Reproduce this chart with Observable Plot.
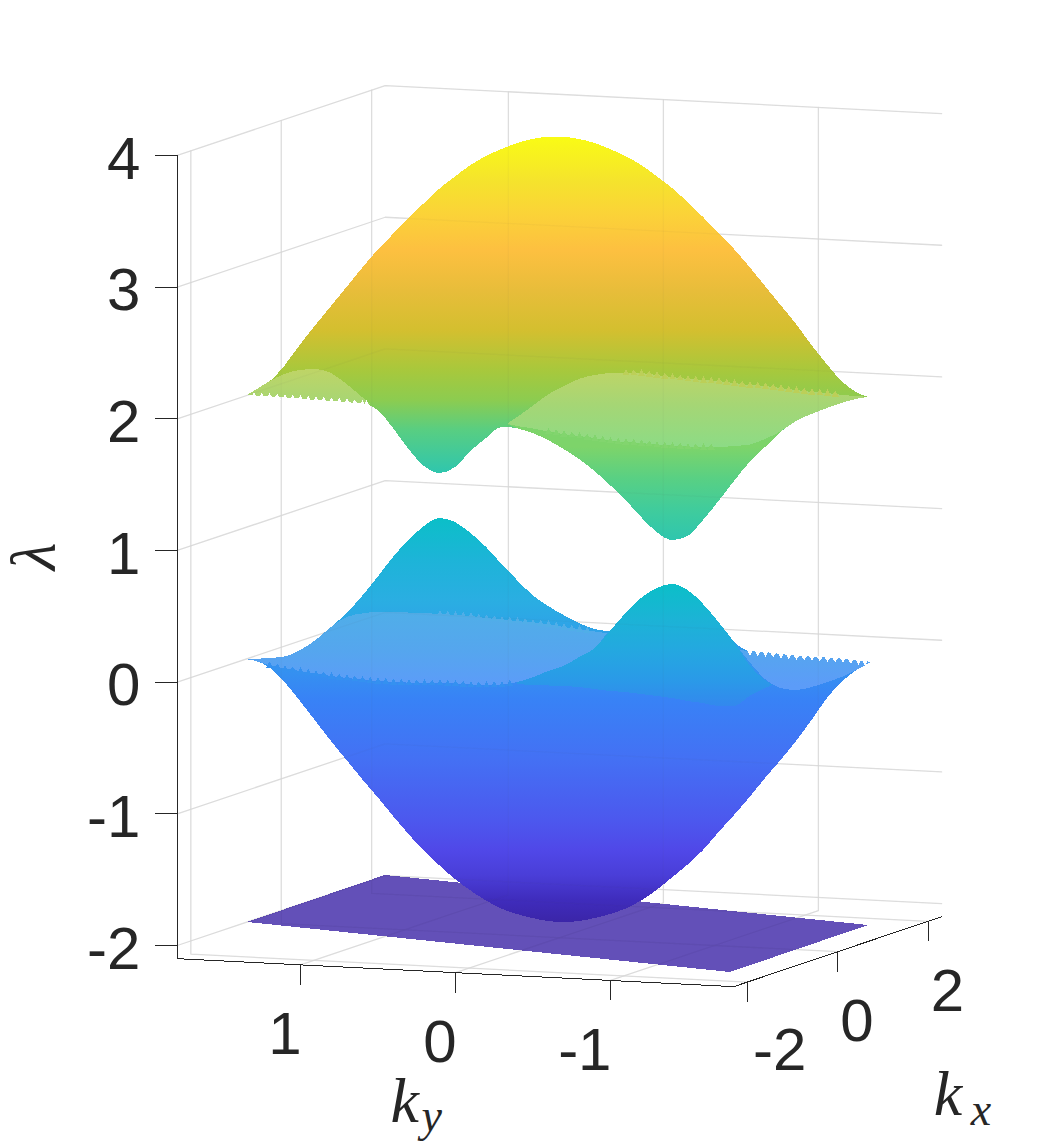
<!DOCTYPE html>
<html>
<head>
<meta charset="utf-8">
<style>html,body{margin:0;padding:0;background:#fff;overflow:hidden}svg{display:block}</style>
<script src="https://cdn.jsdelivr.net/npm/d3@7"></script>
<script src="https://cdn.jsdelivr.net/npm/@observablehq/plot@0.6"></script>
</head>
<body>
<div id="chart"></div>
<script>
// Axis ticks and box limits
const kxTicks = [-2, 0, 2];
const kyTicks = [1, 0, -1];
const lambdaTicks = [-2, -1, 0, 1, 2, 3, 4];
const kxLimits = [-2.3, 2.3];
const kyLimits = [1.795, -1.795];
const lambdaLimits = [-2.1, 4];

// Silhouettes: horizontal place in ky units along the front axis,
// height in lambda units along the left axis.
const stepU = [1.3,1.2,1.1,1.0,0.9,0.8,0.7,0.6,0.5,0.4,0.3,0.2,0.1,0,-0.1,-0.2,-0.3,-0.4,-0.5,-0.6,-0.7,-0.8,-0.9,-1.0,-1.1,-1.2,-1.3,-1.4,-1.5,-1.6,-1.7,-1.8,-1.9,-2.0,-2.1,-2.2,-2.3,-2.4,-2.5,-2.6];

const upperBandU = [1.342, ...stepU, -2.665];
const upperBandTop = [2.177,2.204,2.276,2.401,2.561,2.709,2.853,2.997,3.142,3.278,3.400,3.521,3.635,3.745,3.837,3.924,3.992,4.045,4.091,4.121,4.137,4.137,4.121,4.091,4.045,3.992,3.924,3.840,3.749,3.643,3.529,3.407,3.286,3.149,3.005,2.861,2.716,2.557,2.409,2.276,2.192,2.162];
const upperBandBottom = [2.177,2.173,2.166,2.158,2.150,2.139,2.131,2.124,2.112,2.063,1.926,1.767,1.638,1.585,1.630,1.752,1.850,1.934,1.926,1.888,1.835,1.767,1.691,1.600,1.493,1.380,1.251,1.137,1.076,1.106,1.228,1.372,1.524,1.668,1.782,1.896,1.980,2.033,2.078,2.120,2.150,2.162];

const upperLeftU = [1.342,1.3,1.2,1.1,1.0,0.9,0.8,0.7,0.6,0.548];
const upperLeftTop = [2.177,2.207,2.280,2.337,2.367,2.375,2.344,2.261,2.162,2.109];
const upperLeftBottom = [2.177,2.173,2.166,2.158,2.150,2.139,2.131,2.124,2.112,2.109];

const upperRightU = [-0.335,-0.4,-0.5,-0.6,-0.7,-0.8,-0.9,-1.0,-1.1,-1.2,-1.3,-1.4,-1.5,-1.6,-1.7,-1.8,-1.9,-2.0,-2.1,-2.2,-2.3,-2.4,-2.5,-2.6,-2.665];
const upperRightTop = [1.957,2.010,2.094,2.181,2.245,2.299,2.329,2.344,2.348,2.344,2.329,2.314,2.299,2.291,2.283,2.268,2.253,2.245,2.230,2.215,2.200,2.192,2.177,2.169,2.162];
const upperRightBottom = [1.957,1.942,1.923,1.900,1.881,1.866,1.850,1.831,1.820,1.812,1.801,1.793,1.786,1.782,1.782,1.790,1.801,1.843,1.900,1.980,2.033,2.078,2.120,2.150,2.162];

const upperDipU = [-0.335,-0.4,-0.5,-0.6,-0.7,-0.8,-0.9,-1.0,-1.1,-1.2,-1.3,-1.4,-1.5,-1.6,-1.7,-1.8,-1.9,-2.0,-2.1];
const upperDipTop = [1.957,1.942,1.923,1.900,1.881,1.866,1.850,1.831,1.820,1.812,1.801,1.793,1.786,1.782,1.782,1.790,1.801,1.843,1.900];
const upperDipBottom = [1.957,1.926,1.888,1.835,1.767,1.691,1.600,1.493,1.380,1.251,1.137,1.076,1.106,1.228,1.372,1.524,1.668,1.782,1.896];

const lowerBandU = [1.335, ...stepU, -2.684];
const lowerBandTop = [0.168,0.172,0.180,0.191,0.240,0.316,0.415,0.521,0.650,0.795,0.947,1.076,1.182,1.243,1.212,1.129,1.023,0.894,0.772,0.658,0.575,0.506,0.445,0.400,0.385,0.521,0.635,0.711,0.742,0.696,0.590,0.453,0.301,0.233,0.225,0.210,0.199,0.191,0.183,0.176,0.164,0.149];
const lowerBandBottom = [0.168,0.161,0.111,-0.003,-0.147,-0.299,-0.451,-0.595,-0.739,-0.876,-1.020,-1.157,-1.286,-1.396,-1.499,-1.586,-1.662,-1.723,-1.765,-1.795,-1.818,-1.825,-1.818,-1.795,-1.765,-1.723,-1.662,-1.582,-1.487,-1.389,-1.279,-1.142,-1.013,-0.876,-0.732,-0.595,-0.451,-0.291,-0.124,0.005,0.096,0.149];

const lowerPeakU = [-0.4,-0.5,-0.6,-0.7,-0.8,-0.9,-1.0,-1.1,-1.2,-1.3,-1.4,-1.5,-1.6,-1.7,-1.8,-1.9,-2.0,-2.052];
const lowerPeakTop = [-0.003,0.032,0.081,0.119,0.187,0.255,0.385,0.521,0.635,0.711,0.742,0.696,0.590,0.453,0.301,0.126,0.012,-0.025];
const lowerPeakBottom = [-0.018,-0.025,-0.029,-0.033,-0.041,-0.056,-0.071,-0.079,-0.094,-0.109,-0.124,-0.147,-0.162,-0.185,-0.185,-0.109,-0.048,-0.025];

const lowerLeftU = [1.335,1.3,1.2,1.1,1.0,0.9,0.8,0.7,0.6,0.5,0.4,0.3,0.2,0.1,0,-0.1,-0.2,-0.3,-0.4,-0.5,-0.6,-0.7,-0.8,-0.9,-0.981];
const lowerLeftTop = [0.168,0.172,0.180,0.191,0.240,0.316,0.415,0.491,0.518,0.529,0.529,0.525,0.521,0.514,0.506,0.499,0.483,0.472,0.461,0.449,0.438,0.415,0.400,0.381,0.369];
const lowerLeftBottom = [0.168,0.161,0.126,0.100,0.081,0.062,0.043,0.028,0.016,0.005,-0.003,-0.007,-0.010,-0.010,-0.014,-0.022,-0.025,-0.022,-0.003,0.032,0.081,0.119,0.187,0.255,0.369];

const lowerRightU = [-1.839,-1.9,-2.0,-2.1,-2.2,-2.3,-2.4,-2.5,-2.6,-2.684];
const lowerRightTop = [0.240,0.233,0.225,0.210,0.199,0.191,0.183,0.176,0.164,0.149];
const lowerRightBottom = [0.240,0.149,0.020,-0.048,-0.063,-0.041,-0.003,0.039,0.096,0.149];

const flatBandU = [1.342,0.452,-1.774,-2.665];
const flatBandTop = [-1.825,-1.468,-1.740,-1.848];
const flatBandBottom = [-1.825,-1.934,-2.205,-1.848];

// Colour ramps, height in lambda units
const upperMainRamp = [[4.137,"#f9fb15"],[3.810,"#f5e42c"],[3.544,"#fbd238"],[3.278,"#fdc040"],[2.974,"#e8bd3a"],[2.671,"#d4bf2f"],[2.367,"#a8c83c"],[2.139,"#8ccc50"],[1.911,"#58ce82"],[1.585,"#2fc6ae"]];
const upperDipRamp = [[1.782,"#7dd46a"],[1.540,"#58d084"],[1.310,"#40cc9c"],[1.076,"#2fc6ae"]];
const upperLightRamp = [[2.375,"#bfd466"],[2.100,"#a5d675"],[1.790,"#8ddb85"]];
const lowerMainRamp = [[1.243,"#0bbfc8"],[0.924,"#1db4d8"],[0.620,"#2aaee2"],[0.170,"#3397ee"],[-0.139,"#3882f6"],[-0.595,"#4470f4"],[-1.051,"#4c58ee"],[-1.279,"#5048e8"],[-1.468,"#4a3ed8"],[-1.659,"#3f2cbc"],[-1.825,"#3b25a8"]];
const lowerPeakRamp = [[0.742,"#0bbfc8"],[0.468,"#1cb3d6"],[0.240,"#24a8e0"],[0.012,"#2a9ae8"],[-0.185,"#3388ee"]];
const lowerLightRamp = [[0.529,"#50aee8"],[0.240,"#55a6ee"],[-0.025,"#5c9cf8"]];
const ramps = {upperMain:upperMainRamp, upperDip:upperDipRamp, upperLight:upperLightRamp, lowerMain:lowerMainRamp, lowerPeak:lowerPeakRamp, lowerLight:lowerLightRamp};

// Oblique view of the box: (kx, ky, lambda) -> place on the picture plane
const project = (kx, ky, l) => ({
  x: ky - 0.2916 * (kx - kxLimits[0]),
  y: l - 0.0592 * (kyLimits[0] - ky) + 0.1154 * (kx - kxLimits[0])
});
const segment = (id, ...pts) => pts.map(p => ({id, ...project(...p)}));

const [kxA, kxB] = kxLimits, [kyA, kyB] = kyLimits, [lA, lB] = lambdaLimits;
const grid = [
  ...lambdaTicks.flatMap(l => segment("l" + l, [kxA,kyA,l], [kxB,kyA,l], [kxB,kyB,l])),
  ...kxTicks.flatMap(k => segment("wx" + k, [k,kyA,lB], [k,kyA,lA], [k,kyB,lA])),
  ...kyTicks.flatMap(k => segment("wy" + k, [kxB,k,lB], [kxB,k,lA], [kxA,k,lA]))
];
const axisPath = segment("axis", [kxA,kyA,lB], [kxA,kyA,lA], [kxA,kyB,lA], [kxB,kyB,lA]);

const table = (u, a, b) => u.map((x, i) => ({x, y1: a[i], y2: b[i]}));
const band = (u, a, b, fill, curve = "monotone-x") => Plot.areaY(table(u, a, b), {x: "x", y1: "y1", y2: "y2", fill, curve, shapeRendering: "crispEdges"});
// small saw-teeth of the mesh edge, one at each read point and halfway to the next
const teeth = (u, v) => d3.pairs(u.map((x, i) => ({x, y: v[i]}))).flatMap(([a, b]) => [a, {x: (a.x + b.x) / 2, y: (a.y + b.y) / 2}]);
const teethMark = (u, v, fill, rotate = 0) => Plot.dot(teeth(u, v), {x: "x", y: "y", symbol: "triangle", r: 2.6, fill, rotate, shapeRendering: "crispEdges"});

const digits = {fontFamily: "Liberation Sans, Helvetica, Arial, sans-serif", fontSize: 60, fill: "#262626"};
const mathText = {fontFamily: "Liberation Serif, serif", fontStyle: "italic", fill: "#262626", lineAnchor: "bottom", textAnchor: "start"};
const axisStyle = {stroke: "#262626", strokeWidth: 1, shapeRendering: "crispEdges"};
const lambdaPts = lambdaTicks.map(l => ({l, ...project(kxA, kyA, l)}));
const kyPts = kyTicks.map(k => ({k, ...project(kxA, k, lA)}));
const kxPts = kxTicks.map(k => ({k, ...project(k, kyB, lA)}));
const kyTitle = [project(kxA, 0, lA)];
const kxTitle = [project(kxB, kyB, lA)];
const lambdaTitle = [project(kxA, kyA, 1)];

const plot = Plot.plot({
  width: 1042, height: 1146, margin: 0,
  style: {background: "#fff"},
  x: {domain: [455 / 155, -587 / 155], range: [0, 1042], axis: null},
  y: {domain: [-201 / 131.67 - 2, 945 / 131.67 - 2], range: [1146, 0], axis: null},
  marks: [
    (index, {y}) => {
      const defs = d3.create("svg:defs");
      for (const [name, ramp] of Object.entries(ramps)) {
        const y0 = y(ramp[0][0]), y1 = y(ramp[ramp.length - 1][0]);
        const g = defs.append("linearGradient").attr("id", name).attr("gradientUnits", "userSpaceOnUse")
          .attr("x1", 0).attr("x2", 0).attr("y1", y0).attr("y2", y1);
        for (const [v, c] of ramp) g.append("stop").attr("offset", (y(v) - y0) / (y1 - y0)).attr("stop-color", c);
      }
      return defs.node();
    },
    Plot.line(grid, {x: "x", y: "y", z: "id", stroke: "#e2e2e2", strokeWidth: 1.3}),
    Plot.areaY(table(flatBandU, flatBandTop, flatBandBottom), {x: "x", y1: "y1", y2: "y2", fill: "#4831ac", fillOpacity: 0.85, shapeRendering: "crispEdges"}),
    band(lowerBandU, lowerBandTop, lowerBandBottom, "url(#lowerMain)"),
    band(lowerLeftU, lowerLeftTop, lowerLeftBottom, "url(#lowerLight)"),
    band(lowerRightU, lowerRightTop, lowerRightBottom, "url(#lowerLight)"),
    band(lowerPeakU, lowerPeakTop, lowerPeakBottom, "url(#lowerPeak)"),
    teethMark(lowerLeftU.slice(2, 19), lowerLeftBottom.slice(2, 19), "#3491f0"),
    teethMark(lowerLeftU.slice(13, 24), lowerLeftTop.slice(13, 24), "#50aee8"),
    teethMark(lowerRightU.slice(1), lowerRightTop.slice(1), "#fff", 180),
    band(upperBandU, upperBandTop, upperBandBottom, "url(#upperMain)"),
    band(upperLeftU, upperLeftTop, upperLeftBottom, "url(#upperLight)"),
    band(upperRightU, upperRightTop, upperRightBottom, "url(#upperLight)"),
    band(upperDipU, upperDipTop, upperDipBottom, "url(#upperDip)"),
    teethMark(upperLeftU.slice(1), upperLeftBottom.slice(1), "#fff"),
    teethMark(upperRightU.slice(3, 15), upperRightBottom.slice(3, 15), "#82d56e"),
    teethMark(upperRightU.slice(8, 23), upperRightTop.slice(8, 23), "#bccf58"),
    Plot.line(grid, {x: "x", y: "y", z: "id", stroke: "#555", strokeOpacity: 0.035, strokeWidth: 1.3}),
    Plot.line(axisPath, {x: "x", y: "y", ...axisStyle}),
    Plot.link(lambdaPts, {x1: "x", y1: "y", x2: d => d.x + 22 / 155, y2: "y", ...axisStyle}),
    Plot.link(kyPts, {x1: "x", y1: "y", x2: "x", y2: d => d.y - 20 / 131.67, ...axisStyle}),
    Plot.link(kxPts, {x1: "x", y1: "y", x2: "x", y2: d => d.y - 20 / 131.67, ...axisStyle}),
    Plot.text(lambdaPts, {x: "x", y: "y", text: d => String(d.l), dx: -37, dy: 4, textAnchor: "end", ...digits}),
    Plot.text(kyPts, {x: "x", y: "y", text: d => String(d.k), dx: 1, dy: 70, textAnchor: "end", ...digits}),
    Plot.text(kxPts.filter(d => d.k === -2), {x: "x", y: "y", text: d => String(d.k), dx: 59, dy: 69, textAnchor: "end", ...digits}),
    Plot.text(kxPts.filter(d => d.k !== -2), {x: "x", y: "y", text: d => String(d.k), dx: 36, dy: 70, textAnchor: "end", ...digits}),
    Plot.text(kyTitle, {x: "x", y: "y", text: () => "k", dx: -65, dy: 149, fontSize: 64, ...mathText}),
    Plot.text(kyTitle, {x: "x", y: "y", text: () => "y", dx: -34, dy: 158, fontSize: 46, ...mathText}),
    Plot.text(kxTitle, {x: "x", y: "y", text: () => "k", dx: -8, dy: 198, fontSize: 64, ...mathText}),
    Plot.text(kxTitle, {x: "x", y: "y", text: () => "x", dx: 29, dy: 208, fontSize: 46, ...mathText}),
    Plot.text(lambdaTitle, {x: "x", y: "y", text: () => "λ", dx: -143, dy: 6, fontSize: 64, rotate: -90, fontFamily: "Liberation Serif, serif", fontStyle: "italic", fill: "#262626"})
  ]
});
document.getElementById("chart").append(plot);
</script>
</body>
</html>
